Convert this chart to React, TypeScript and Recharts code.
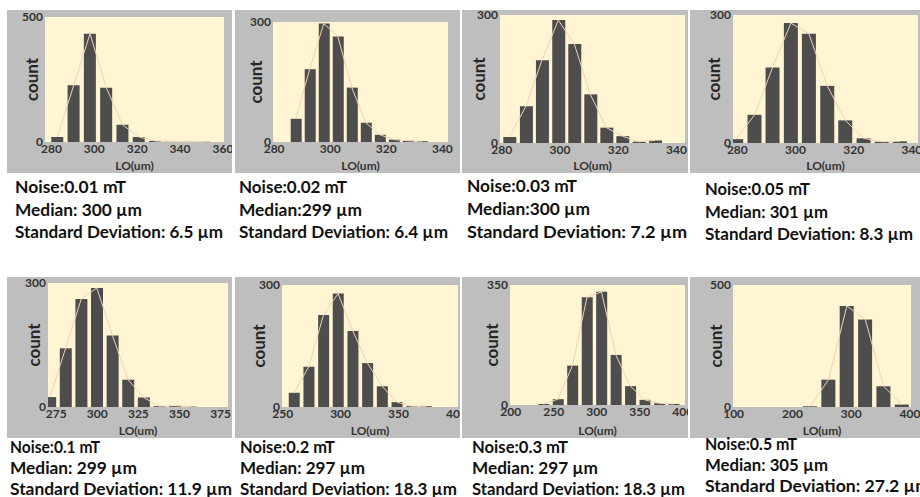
import { ComposedChart, Bar, Line, XAxis, YAxis, CartesianGrid } from 'recharts'

// colours
const FRAME = '#bebebe'
const PLOT_BG = '#fff5d3'
const BAR = '#4d4d4d'
const FIT = '#f1d3b4'
const TICK = '#333333'
const FONT = 'Lato, "Open Sans", sans-serif'

// ---- histogram data: bin centre (um) + count for each noise level ----
const centers1 = [282.8, 290.4, 298, 305.6, 313.2, 320.8, 328.4, 336, 343.6, 351.2]
const counts1 = [20, 227, 433, 217, 69, 20, 4, 2, 1, 1]
const xTicks1 = [280, 300, 320, 340, 360]

const centers2 = [287.7, 292.7, 297.7, 302.7, 307.7, 312.7, 317.7, 322.7, 327.7, 332.7]
const counts2 = [58, 182, 296, 264, 136, 48, 18, 6, 3, 2]
const xTicks2 = [280, 300, 320, 340]

const centers3 = [282.6, 288.3, 293.8, 299.4, 304.9, 310.4, 315.9, 321.4, 327, 332.6]
const counts3 = [14, 86, 194, 288, 232, 114, 36, 16, 3, 6]
const xTicks3 = [280, 300, 320, 340]

const centers4 = [279.6, 285.9, 292.1, 298.4, 304.6, 310.9, 317.1, 323.4, 329.6, 335.9]
const counts4 = [9, 66, 177, 281, 256, 134, 53, 11, 3, 4]
const xTicks4 = [280, 300, 320, 340]

const centers5 = [271.2, 280.7, 290.2, 299.7, 309.2, 318.7, 328.2, 337.7, 347.2, 356.7]
const counts5 = [24, 142, 261, 288, 173, 66, 23, 2, 3, 1]
const xTicks5 = [275, 300, 325, 350, 375]

const centers6 = [259.8, 272.5, 285.2, 297.8, 310.5, 323.2, 335.9, 348.6, 361.2, 373.9]
const counts6 = [35, 99, 226, 279, 187, 108, 51, 12, 2, 2]
const xTicks6 = [250, 300, 350, 400]

const centers7 = [238.2, 255, 271.8, 288.7, 305.5, 322.3, 339.1, 355.9, 372.8, 389.6]
const counts7 = [3, 17, 115, 314, 330, 146, 55, 15, 5, 3]
const xTicks7 = [200, 250, 300, 350, 400]

const centers8 = [230.1, 261.4, 292.6, 323.9, 355.1, 386.4]
const counts8 = [3, 112, 414, 359, 85, 10]
const xTicks8 = [100, 200, 300, 400]

const yMaxes = [500, 300, 300, 300, 300, 300, 350, 500]

// ---- captions ----
const noiseLabels = ['Noise:0.01 mT', 'Noise:0.02 mT', 'Noise:0.03 mT', 'Noise:0.05 mT', 'Noise:0.1 mT', 'Noise:0.2 mT', 'Noise:0.3 mT', 'Noise:0.5 mT']
const medianLabels = ['Median: 300 µm', 'Median:299 µm', 'Median:300 µm', 'Median: 301 µm', 'Median: 299 µm', 'Median: 297 µm', 'Median: 297 µm', 'Median: 305 µm']
const sdLabels = [
  'Standard Deviation: 6.5 µm', 'Standard Deviation: 6.4 µm', 'Standard Deviation: 7.2 µm', 'Standard Deviation: 8.3 µm',
  'Standard Deviation: 11.9 µm', 'Standard Deviation: 18.3 µm', 'Standard Deviation: 18.3 µm', 'Standard Deviation: 27.2 µm',
]

const series = [
  { centers: centers1, counts: counts1, ticks: xTicks1 },
  { centers: centers2, counts: counts2, ticks: xTicks2 },
  { centers: centers3, counts: counts3, ticks: xTicks3 },
  { centers: centers4, counts: counts4, ticks: xTicks4 },
  { centers: centers5, counts: counts5, ticks: xTicks5 },
  { centers: centers6, counts: counts6, ticks: xTicks6 },
  { centers: centers7, counts: counts7, ticks: xTicks7 },
  { centers: centers8, counts: counts8, ticks: xTicks8 },
]

// layout of each little panel (frame box, plot padding, x range, bar width)
const layout = [
  { x: 7, y: 10, w: 225, h: 163, l: 38, r: 8, t: 7, b: 31, dom: [277, 360.5], bar: 12, cx: 24 },
  { x: 235, y: 10, w: 225, h: 163, l: 38, r: 12, t: 12, b: 31, dom: [279.6, 342], bar: 11, cx: 20 },
  { x: 462, y: 10, w: 226, h: 163, l: 38, r: 3, t: 5, b: 30, dom: [279.4, 342.9], bar: 13, cx: 16 },
  { x: 690, y: 10, w: 230, h: 163, l: 43, r: 2, t: 5, b: 30, dom: [278.5, 342.1], bar: 14, cx: 23 },
  { x: 7, y: 277, w: 225, h: 161, l: 41, r: 4, t: 6, b: 31, dom: [270, 379.5], bar: 12, cx: 26 },
  { x: 235, y: 277, w: 225, h: 161, l: 47, r: 2, t: 8, b: 31, dom: [249.4, 401.4], bar: 11, cx: 23 },
  { x: 462, y: 277, w: 226, h: 161, l: 48, r: 3, t: 8, b: 33, dom: [199.2, 402.7], bar: 11, cx: 29 },
  { x: 690, y: 277, w: 230, h: 161, l: 43, r: 9, t: 8, b: 31, dom: [98.9, 401.7], bar: 14, cx: 25 },
]

const captionPos = [
  { x: 15, y: 193, gap: 22.5, w: [111, 127, 208] },
  { x: 239, y: 193, gap: 22.5, w: [108, 123, 209] },
  { x: 467, y: 192, gap: 23, w: [110, 123, 220] },
  { x: 705, y: 195, gap: 22.5, w: [105, 123, 208] },
  { x: 10, y: 453, gap: 21, w: [90, 127, 222] },
  { x: 240, y: 453, gap: 21, w: [95, 125, 217] },
  { x: 472, y: 453, gap: 21, w: [96, 126, 213] },
  { x: 705, y: 450, gap: 21, w: [92, 123, 225] },
]

const tickStyle = { fill: TICK, fontSize: 12, fontWeight: 700, fontFamily: FONT }

function Histogram({ idx }: { idx: number }) {
  const s = series[idx]
  const g = layout[idx]
  const data = s.centers.map((c, i) => ({ x: c, count: s.counts[i] }))
  const yMax = yMaxes[idx]

  const countLabel = (p: any) => {
    const vb = p.viewBox || {}
    const x = g.cx
    const y = (vb.y ?? g.t) + (vb.height ?? 0) / 2
    return (
      <text x={x} y={y} transform={`rotate(-90 ${x} ${y})`} textAnchor="middle" dominantBaseline="central"
        fill="#262626" fontSize={17} fontWeight={700} fontFamily={FONT}>count</text>
    )
  }

  return (
    <div style={{ position: 'absolute', left: g.x, top: g.y, width: g.w, height: g.h }}>
      <ComposedChart width={g.w} height={g.h} data={data}
        margin={{ top: g.t, right: g.r, left: 0, bottom: 0 }}
        style={{ background: FRAME }}>
        <CartesianGrid horizontal={false} vertical={false} fill={PLOT_BG} stroke="none" />
        <XAxis type="number" dataKey="x" domain={g.dom} ticks={s.ticks} allowDataOverflow interval={0}
          axisLine={false} tickLine={false} tickSize={0} tickMargin={2} height={g.b} tick={tickStyle}
          label={{ value: 'LO(um)', position: 'insideBottom', offset: 3, fill: TICK, fontSize: 12, fontWeight: 700, fontFamily: FONT }} />
        <YAxis type="number" domain={[0, yMax]} ticks={[0, yMax]} interval={0} width={g.l}
          axisLine={false} tickLine={false} tickSize={0} tickMargin={2} tick={tickStyle}
          label={countLabel} />
        <Line type="linear" dataKey="count" stroke={FIT} strokeWidth={1} dot={false} activeDot={false} isAnimationActive={false} />
        <Bar dataKey="count" fill={BAR} barSize={g.bar} isAnimationActive={false} />
      </ComposedChart>
    </div>
  )
}

export default function App() {
  return (
    <div style={{ position: 'absolute', left: 0, top: 0, width: 920, height: 497, background: '#fff', overflow: 'hidden' }}>
      {series.map((_, i) => <Histogram key={i} idx={i} />)}
      <svg width={920} height={497} style={{ position: 'absolute', left: 0, top: 0, pointerEvents: 'none' }}>
        {captionPos.map((c, i) => {
          const lines = [noiseLabels[i], medianLabels[i], sdLabels[i]]
          return lines.map((t, j) => (
            <text key={`${i}-${j}`} x={c.x} y={c.y + j * c.gap} textLength={c.w[j]} lengthAdjust="spacingAndGlyphs"
              fill="#111" fontSize={17} fontWeight={700} fontFamily={FONT}>{t}</text>
          ))
        })}
      </svg>
    </div>
  )
}
